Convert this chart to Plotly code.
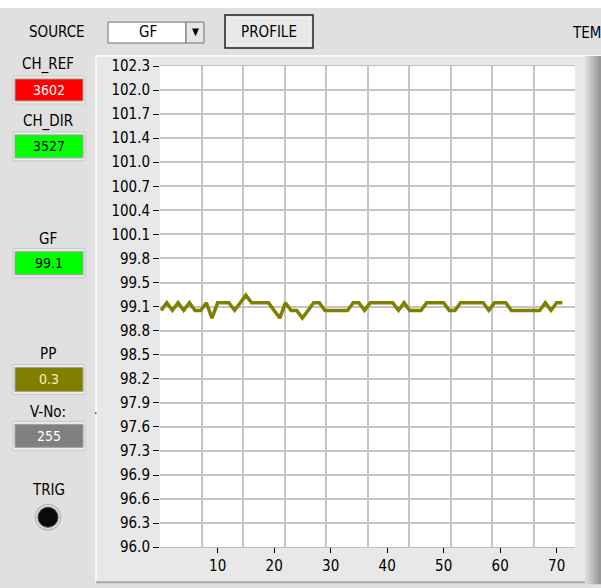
import numpy as np
import plotly.graph_objects as go

# ---- data ----
sample_idx = list(range(72))
gf_values = [99.1, 99.2, 99.1, 99.2, 99.1, 99.2, 99.1, 99.1, 99.2, 99.0,
             99.2, 99.2, 99.2, 99.1, 99.2, 99.3, 99.2, 99.2, 99.2, 99.2,
             99.1, 99.0, 99.2, 99.1, 99.1, 99.0, 99.1, 99.2, 99.2, 99.1,
             99.1, 99.1, 99.1, 99.1, 99.2, 99.2, 99.1, 99.2, 99.2, 99.2,
             99.2, 99.2, 99.1, 99.2, 99.1, 99.1, 99.1, 99.2, 99.2, 99.2,
             99.2, 99.1, 99.1, 99.2, 99.2, 99.2, 99.2, 99.2, 99.1, 99.2,
             99.2, 99.2, 99.1, 99.1, 99.1, 99.1, 99.1, 99.1, 99.2, 99.1,
             99.2, 99.2]
y_min, y_max = 96.0, 102.3
y_tick_labels = ["96.0", "96.3", "96.6", "96.9", "97.3", "97.6", "97.9", "98.2",
                 "98.5", "98.8", "99.1", "99.5", "99.8", "100.1", "100.4",
                 "100.7", "101.0", "101.4", "101.7", "102.0", "102.3"]
x_tick_vals = [10, 20, 30, 40, 50, 60, 70]
ind_labels = ["CH_REF", "CH_DIR", "GF", "PP", "V-No:"]
ind_values = ["3602", "3527", "99.1", "0.3", "255"]
source_value = "GF"

# ---- layout helpers (target pixel -> paper), compensating the viewer offset ----
W, H = 601, 588
V_OFF, V_SCALE = 7.9, 0.971
def px(x):
    return x / W
def py(y):
    return 1 - ((y - V_OFF) / V_SCALE) / H

FONT = "DejaVu Sans Condensed, Liberation Sans Narrow, DejaVu Sans, sans-serif"
BG = "#e0e0e0"

fig = go.Figure()
# invisible trace to activate the grid overlay axis
fig.add_trace(go.Scatter(x=[0, 10], y=[y_min, y_max], xaxis="x2", mode="markers",
                         marker=dict(opacity=0), hoverinfo="skip", showlegend=False))
fig.add_trace(go.Scatter(x=sample_idx, y=gf_values, mode="lines",
                         line=dict(color="#808000", width=3.5),
                         hoverinfo="skip", showlegend=False))

y_tick_vals = list(np.linspace(y_min, y_max, len(y_tick_labels)))

shapes = []
# top white strip
shapes.append(dict(type="rect", xref="paper", yref="paper", x0=0, x1=1,
                   y0=py(7), y1=py(-3), fillcolor="white", line=dict(width=0), layer="below"))
# graph panel
shapes.append(dict(type="rect", xref="paper", yref="paper", x0=px(96), x1=px(601),
                   y0=py(582), y1=py(55), fillcolor="#e8e8e8",
                   line=dict(width=0), layer="below"))
shapes.append(dict(type="line", xref="paper", yref="paper", x0=px(96), x1=px(96),
                   y0=py(582), y1=py(55), line=dict(color="#f8f8f8", width=2), layer="below"))
shapes.append(dict(type="line", xref="paper", yref="paper", x0=px(96), x1=px(601),
                   y0=py(55), y1=py(55), line=dict(color="#f8f8f8", width=2), layer="below"))
shapes.append(dict(type="line", xref="paper", yref="paper", x0=px(96), x1=px(590),
                   y0=py(582), y1=py(582), line=dict(color="#a8a8a8", width=2), layer="below"))
# right gradient edge
grad = ["#dcdcdc", "#d2d2d2", "#c8c8c8", "#bebebe", "#b4b4b4", "#aaaaaa", "#a0a0a0", "#969696"]
for i, c in enumerate(grad):
    shapes.append(dict(type="rect", xref="paper", yref="paper",
                       x0=px(585 + i * 2), x1=px(587 + i * 2), y0=py(584), y1=py(55),
                       fillcolor=c, line=dict(width=0), layer="below"))
# white plot background (drawn above the panel)
shapes.append(dict(type="rect", xref="x domain", yref="y domain", x0=0, x1=1, y0=0, y1=1,
                   fillcolor="white", line=dict(width=0), layer="below"))

annotations = []
def text(x, y, s, size=16, color="black", anchor="center"):
    annotations.append(dict(xref="paper", yref="paper", x=px(x), y=py(y), text=s,
                            showarrow=False, xanchor=anchor, yanchor="middle",
                            font=dict(family=FONT, size=size, color=color)))

# top controls
text(57, 31, "SOURCE", 15)
shapes.append(dict(type="rect", xref="paper", yref="paper", x0=px(108), x1=px(186),
                   y0=py(42), y1=py(21), fillcolor="white",
                   line=dict(color="#707070", width=1)))
shapes.append(dict(type="rect", xref="paper", yref="paper", x0=px(186), x1=px(204),
                   y0=py(42), y1=py(21), fillcolor="#e6e6e6",
                   line=dict(color="#707070", width=1)))
text(148, 31, source_value, 15)
text(195, 30, "▼", 10)
shapes.append(dict(type="rect", xref="paper", yref="paper", x0=px(225), x1=px(313),
                   y0=py(47), y1=py(14), fillcolor="#e4e4e4",
                   line=dict(color="#202020", width=1.5)))
shapes.append(dict(type="rect", xref="paper", yref="paper", x0=px(228), x1=px(310),
                   y0=py(44), y1=py(17), fillcolor="#e8e8e8",
                   line=dict(color="#f4f4f4", width=1)))
text(269, 31, "PROFILE", 15)
text(570, 32, "TEM", 15, anchor="left")

# indicators
ind_label_y = [63, 121, 238, 353, 412]
ind_box_y = [(78, 100), (134, 157), (251, 274), (367, 391), (424, 447)]
ind_fill = ["#ff0000", "#00ff00", "#00ff00", "#808000", "#808080"]
ind_text_color = ["white", "black", "black", "#f0f0c0", "white"]
for lab, val, ly, (b0, b1), fc, tc in zip(ind_labels, ind_values, ind_label_y,
                                          ind_box_y, ind_fill, ind_text_color):
    text(48, ly, lab, 15)
    shapes.append(dict(type="rect", xref="paper", yref="paper", x0=px(13), x1=px(85),
                       y0=py(b1 + 3), y1=py(b0 - 3), fillcolor="#ececec",
                       line=dict(color="#c8c8c8", width=1)))
    shapes.append(dict(type="rect", xref="paper", yref="paper", x0=px(15), x1=px(83),
                       y0=py(b1), y1=py(b0), fillcolor=fc,
                       line=dict(color="#a0a0a0", width=1)))
    text(49, (b0 + b1) / 2, val, 14, tc)

text(95, 410, ".", 12)
text(48, 490, "TRIG", 15)
shapes.append(dict(type="circle", xref="paper", yref="paper", x0=px(35), x1=px(61),
                   y0=py(530), y1=py(504), fillcolor="#d8d8d8",
                   line=dict(color="#b0b0b0", width=1)))
shapes.append(dict(type="circle", xref="paper", yref="paper", x0=px(38), x1=px(58),
                   y0=py(527), y1=py(507), fillcolor="#0a0a0a",
                   line=dict(color="#404040", width=1)))

fig.update_layout(
    width=W, height=H,
    margin=dict(l=0, r=0, t=0, b=0),
    paper_bgcolor=BG, plot_bgcolor="rgba(0,0,0,0)",
    showlegend=False,
    shapes=shapes, annotations=annotations,
    xaxis=dict(domain=[px(160), px(575)], range=[-0.2, 73.25],
               tickvals=x_tick_vals, ticks="outside", ticklen=5, tickcolor="black",
               showgrid=False, zeroline=False, showline=True, linecolor="#c0c0c0",
               mirror=True, tickfont=dict(family=FONT, size=15, color="black"),
               fixedrange=True),
    xaxis2=dict(domain=[px(160), px(575)], range=[0, 10], overlaying="x",
                anchor="y", dtick=1, showgrid=True, gridcolor="#c4c4c4", gridwidth=1.5,
                showticklabels=False, ticks="", zeroline=False, side="bottom"),
    yaxis=dict(domain=[py(547), py(65)], range=[y_min, y_max],
               tickvals=y_tick_vals, ticktext=y_tick_labels,
               ticks="outside", ticklen=6, tickcolor="black",
               showgrid=True, gridcolor="#c4c4c4", gridwidth=1.5, zeroline=False,
               tickfont=dict(family=FONT, size=15, color="black"), fixedrange=True),
)

post = ("document.documentElement.style.margin='0px';"
        "document.body.style.margin='0px';document.body.style.overflow='hidden';"
        "var gd=document.getElementById('{plot_id}');"
        "gd.style.position='fixed';gd.style.top='0px';gd.style.left='0px';")
fig.write_html("out.html", config={"displayModeBar": False}, post_script=post)
